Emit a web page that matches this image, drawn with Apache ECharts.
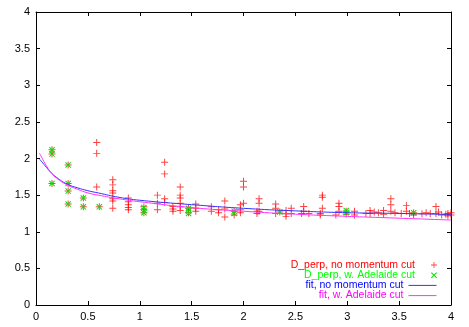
<!DOCTYPE html>
<html>
<head>
<meta charset="utf-8">
<script src="https://cdn.jsdelivr.net/npm/echarts@6/dist/echarts.min.js"></script>
<style>
  html, body { margin: 0; padding: 0; background: #fff; }
  #chart { width: 469px; height: 327px; }
</style>
</head>
<body>
<div id="chart"></div>
<script>
// D_perp, no momentum cut  (x, y)
const redPoints = [
  [0.154, 2.12], [0.154, 2.06], [0.154, 1.66],
  [0.31, 1.91], [0.31, 1.66], [0.31, 1.555], [0.31, 1.38],
  [0.456, 1.46], [0.456, 1.34],
  [0.585, 2.22], [0.585, 2.07], [0.585, 1.61], [0.61, 1.34],
  [0.74, 1.71], [0.74, 1.64], [0.74, 1.56], [0.74, 1.53], [0.74, 1.45], [0.74, 1.42], [0.74, 1.32],
  [0.89, 1.46], [0.89, 1.41], [0.89, 1.37], [0.89, 1.33], [0.89, 1.30],
  [1.04, 1.34], [1.04, 1.30], [1.04, 1.26],
  [1.17, 1.50], [1.17, 1.39], [1.17, 1.30],
  [1.24, 1.95], [1.24, 1.79], [1.24, 1.45], [1.24, 1.40],
  [1.32, 1.345], [1.32, 1.31], [1.32, 1.28],
  [1.39, 1.61], [1.39, 1.50], [1.39, 1.46], [1.39, 1.39], [1.39, 1.34], [1.39, 1.29],
  [1.47, 1.32], [1.47, 1.26],
  [1.54, 1.38], [1.54, 1.32], [1.54, 1.28],
  [1.69, 1.34], [1.69, 1.28], [1.76, 1.30], [1.76, 1.26],
  [1.82, 1.42], [1.82, 1.31], [1.82, 1.20],
  [1.91, 1.28], [1.91, 1.23],
  [1.97, 1.37], [1.97, 1.30], [1.97, 1.26],
  [2.00, 1.69], [2.00, 1.61], [2.00, 1.39],
  [2.13, 1.28], [2.13, 1.25], [2.15, 1.45], [2.15, 1.39], [2.15, 1.28],
  [2.31, 1.38], [2.31, 1.32], [2.31, 1.25], [2.35, 1.27],
  [2.41, 1.29], [2.41, 1.245], [2.41, 1.21], [2.46, 1.32], [2.46, 1.25],
  [2.56, 1.25], [2.58, 1.345], [2.58, 1.28], [2.63, 1.25],
  [2.74, 1.25], [2.74, 1.23], [2.76, 1.50], [2.76, 1.47], [2.76, 1.32],
  [2.89, 1.23], [2.92, 1.39], [2.92, 1.345], [2.92, 1.28],
  [2.99, 1.28], [2.99, 1.24], [3.07, 1.28], [3.07, 1.23],
  [3.18, 1.25], [3.22, 1.29], [3.22, 1.25], [3.26, 1.27], [3.30, 1.26],
  [3.35, 1.29], [3.35, 1.24], [3.42, 1.45], [3.42, 1.37], [3.42, 1.28], [3.46, 1.26],
  [3.52, 1.25], [3.57, 1.36], [3.57, 1.28], [3.60, 1.25],
  [3.64, 1.26], [3.64, 1.23], [3.72, 1.245], [3.76, 1.26], [3.80, 1.25],
  [3.855, 1.345], [3.855, 1.25], [3.88, 1.27], [3.91, 1.23],
  [3.95, 1.24], [3.97, 1.25], [3.97, 1.22], [4.0, 1.26], [4.0, 1.23]
];

// D_perp, w. Adelaide cut  (x, y)
const greenPoints = [
  [0.154, 2.12], [0.154, 2.06], [0.154, 1.66],
  [0.31, 1.91], [0.31, 1.66], [0.31, 1.555], [0.31, 1.38],
  [0.456, 1.46], [0.456, 1.34], [0.61, 1.34],
  [1.04, 1.33], [1.04, 1.29], [1.04, 1.26],
  [1.47, 1.32], [1.47, 1.28], [1.47, 1.25],
  [1.91, 1.28], [1.91, 1.25], [2.35, 1.27],
  [2.99, 1.29], [2.99, 1.26], [3.64, 1.26]
];

// fit curves
const fitX = [0.035, 0.1, 0.15, 0.2, 0.3, 0.4, 0.5, 0.6, 0.8, 1.0, 1.5, 2.0, 2.5, 3.0, 3.5, 4.0];
const fitBlue = [1.99, 1.88, 1.80, 1.74, 1.65, 1.60, 1.56, 1.53, 1.47, 1.43, 1.37, 1.32, 1.285, 1.26, 1.25, 1.235];
const fitMagenta = [2.07, 1.90, 1.80, 1.73, 1.64, 1.58, 1.53, 1.50, 1.45, 1.41, 1.33, 1.28, 1.24, 1.21, 1.185, 1.16];

const seriesNames = [
  "D_perp, no momentum cut",
  "D_perp, w. Adelaide cut",
  "fit, no momentum cut",
  "fit, w. Adelaide cut"
];
const seriesColors = ["#ff0000", "#00e000", "#3333ff", "#ff33ff"];
const textColors = ["#ff0000", "#00ff00", "#0000ff", "#ff00ff"];

const FONT = "Liberation Sans, Arial, sans-serif";
const plus = "path://M0,4.3h10v1.4h-10z M4.3,0h1.4v10h-1.4z";
const cross = "path://M0,1.2L1.2,0L10,8.8L8.8,10Z M8.8,0L10,1.2L1.2,10L0,8.8Z";

const chart = echarts.init(document.getElementById("chart"), null, { renderer: "canvas" });

function axis(pos, show) {
  return {
    type: "value",
    position: pos,
    min: 0,
    max: 4,
    interval: 0.5,
    axisLine: { show: true, onZero: false, lineStyle: { color: "#000", width: 1 } },
    axisTick: { show: true, inside: true, length: 4, lineStyle: { color: "#000" } },
    axisLabel: { show: show, color: "#000", fontSize: 11, fontFamily: FONT, margin: 6 },
    splitLine: { show: false }
  };
}

// gnuplot style key: text right aligned, sample on the right
const legends = seriesNames.map((name, i) => {
  const item = { name: name, textStyle: { color: textColors[i] } };
  if (i >= 2) {
    item.itemStyle = { opacity: 0 }; // line only, no dot
    item.lineStyle = { width: 1, color: seriesColors[i] };
  }
  return {
    data: [item],
    orient: "vertical",
    align: "right",
    right: 32,
    top: 259.5 + i * 10.2,
    padding: 0,
    itemWidth: 28,
    itemHeight: i < 2 ? 6 : 8,
    selectedMode: false,
    textStyle: { fontSize: 10.5, fontFamily: FONT }
  };
});

chart.setOption({
  animation: false,
  backgroundColor: "#fff",
  grid: { left: 36, right: 18, top: 12, bottom: 22 },
  xAxis: [axis("bottom", true), axis("top", false)],
  yAxis: [axis("left", true), axis("right", false)],
  legend: legends,
  series: [
    {
      name: seriesNames[0],
      type: "scatter",
      data: redPoints,
      symbol: plus,
      symbolSize: 7,
      itemStyle: { color: seriesColors[0], opacity: 0.75 },
      z: 2
    },
    {
      name: seriesNames[1],
      type: "scatter",
      data: greenPoints,
      symbol: cross,
      symbolSize: 6,
      itemStyle: { color: seriesColors[1], opacity: 1 },
      z: 3
    },
    {
      name: seriesNames[2],
      type: "line",
      data: fitX.map((x, i) => [x, fitBlue[i]]),
      smooth: true,
      symbol: "none",
      lineStyle: { color: seriesColors[2], width: 1 },
      itemStyle: { color: seriesColors[2] },
      z: 4
    },
    {
      name: seriesNames[3],
      type: "line",
      data: fitX.map((x, i) => [x, fitMagenta[i]]),
      smooth: true,
      symbol: "none",
      lineStyle: { color: seriesColors[3], width: 1 },
      itemStyle: { color: seriesColors[3] },
      z: 4
    }
  ]
});
</script>
</body>
</html>
